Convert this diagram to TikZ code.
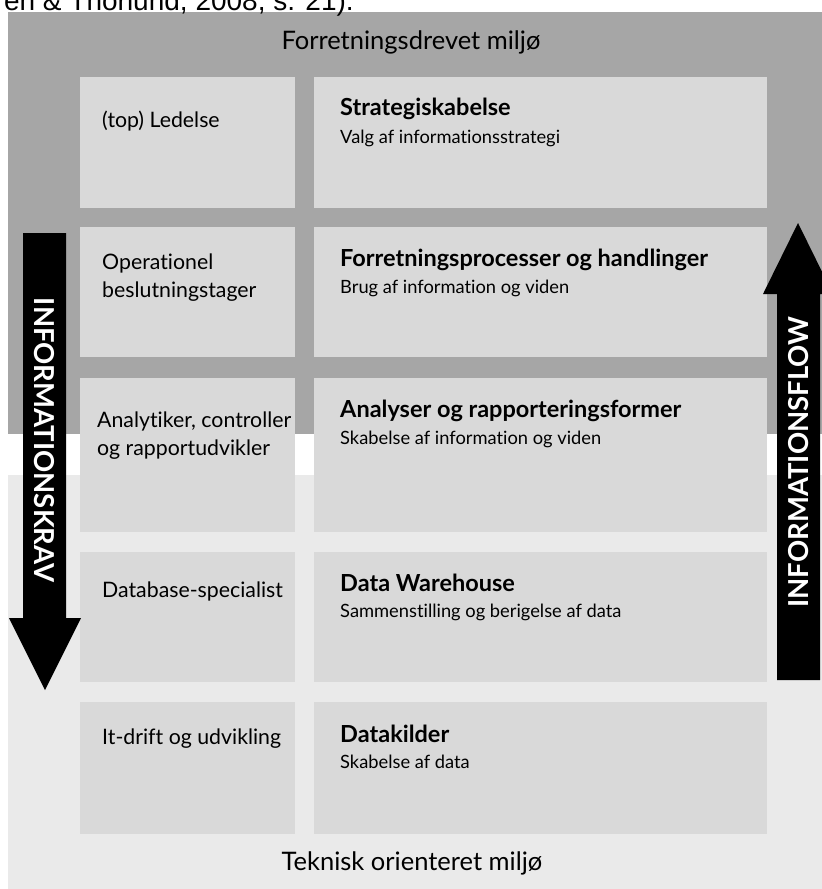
\documentclass[tikz,border=0pt]{standalone}
\usepackage{fontspec}
\setmainfont{Lato}[Ligatures=NoCommon]
\newfontfamily\captionfont{Liberation Sans}
\usepackage{xcolor}
\usetikzlibrary{positioning,calc}

\definecolor{forrgray}{HTML}{A6A6A6}
\definecolor{boxgray}{HTML}{D9D9D9}
\definecolor{teknikgray}{HTML}{EAEAEA}

\begin{document}
\begin{tikzpicture}[
    x=1pt, y=-1pt,
    rolebox/.style={rectangle, fill=boxgray, anchor=north west, inner sep=0pt, minimum width=215pt},
    layerbox/.style={rectangle, fill=boxgray, anchor=north west, inner sep=0pt, minimum width=453pt},
    roletext/.style={anchor=base west, align=left, inner sep=0pt, font=\fontsize{21.3}{28}\selectfont},
    layertitle/.style={anchor=base west, inner sep=0pt, font=\fontsize{23.5}{26}\selectfont\bfseries},
    layersub/.style={anchor=base west, inner sep=0pt, font=\fontsize{18.3}{21}\selectfont},
    flowtext/.style={text=white, inner sep=0pt, font=\fontsize{27.5}{28}\selectfont\bfseries},
    envtext/.style={anchor=base, inner sep=0pt, font=\fontsize{25.5}{28}\selectfont}
]
    \clip (0,0) rectangle (822,889);

    % baggrund
    \fill [white] (0,0) rectangle (822,889);
    \fill [forrgray] (8,12) rectangle (822,434);
    \fill [teknikgray] (8,475) rectangle (822,889);

    \node [anchor=base east, inner sep=0pt, font=\captionfont\fontsize{28}{32}\selectfont] (kilde) at (354,10) {en \& Thorlund, 2008, s. 21).};

    \node [envtext] (forr) at (411,49) {Forretningsdrevet miljø};
    \node [envtext] (tek) at (412,870) {Teknisk orienteret miljø};

    % roller
    \node [rolebox, minimum height=131pt] (role1) at (80,77) {};
    \node [rolebox, minimum height=130pt] (role2) at (80,227) {};
    \node [rolebox, minimum height=154pt] (role3) at (80,378) {};
    \node [rolebox, minimum height=130pt] (role4) at (80,552) {};
    \node [rolebox, minimum height=132pt] (role5) at (80,702) {};

    % lag
    \node [layerbox, minimum height=131pt] (lag1) at (314,77) {};
    \node [layerbox, minimum height=130pt] (lag2) at (314,227) {};
    \node [layerbox, minimum height=154pt] (lag3) at (314,378) {};
    \node [layerbox, minimum height=130pt] (lag4) at (314,552) {};
    \node [layerbox, minimum height=132pt] (lag5) at (314,702) {};

    \node [roletext] (r1) at ($(role1.north west)+(22,50)$) {(top) Ledelse};
    \node [roletext] (r2) at ($(role2.north west)+(22,70)$) {Operationel\\beslutningstager};
    \node [roletext] (r3) at ($(role3.north west)+(17,77)$) {Analytiker, controller\\og rapportudvikler};
    \node [roletext] (r4) at ($(role4.north west)+(22,45)$) {Database-specialist};
    \node [roletext] (r5) at ($(role5.north west)+(22,42)$) {It-drift og udvikling};

    \node [layertitle] (t1) at ($(lag1.north west)+(26,38)$) {Strategiskabelse};
    \node [layersub] (s1) at ($(lag1.north west)+(26,66)$) {Valg af informationsstrategi};
    \node [layertitle] (t2) at ($(lag2.north west)+(26,39)$) {Forretningsprocesser og handlinger};
    \node [layersub] (s2) at ($(lag2.north west)+(26,66)$) {Brug af information og viden};
    \node [layertitle] (t3) at ($(lag3.north west)+(26,39)$) {Analyser og rapporteringsformer};
    \node [layersub] (s3) at ($(lag3.north west)+(26,66)$) {Skabelse af information og viden};
    \node [layertitle] (t4) at ($(lag4.north west)+(26,39)$) {Data Warehouse};
    \node [layersub] (s4) at ($(lag4.north west)+(26,65)$) {Sammenstilling og berigelse af data};
    \node [layertitle] (t5) at ($(lag5.north west)+(26,40)$) {Datakilder};
    \node [layersub] (s5) at ($(lag5.north west)+(26,66)$) {Skabelse af data};

    % pile
    \fill [black] (23,233) -- (66,233) -- (66,618) -- (81,618) -- (45,690) -- (9,618) -- (23,618) -- cycle;
    \fill [black] (777,680) -- (777,294) -- (763,294) -- (798,223) -- (833,294) -- (820,294) -- (820,680) -- cycle;

    \node [flowtext, rotate=-90] (krav) at (44.5,440) {INFORMATIONSKRAV};
    \node [flowtext, rotate=90] (flow) at (798.5,462) {INFORMATIONSFLOW};
\end{tikzpicture}
\end{document}
